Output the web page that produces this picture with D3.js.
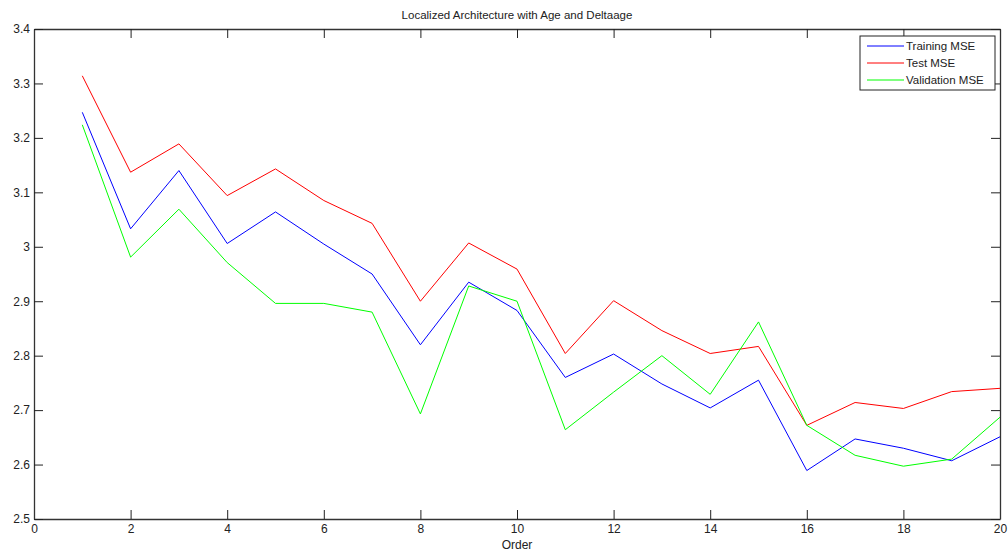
<!DOCTYPE html>
<html>
<head>
<meta charset="utf-8">
<script src="https://cdn.jsdelivr.net/npm/d3@7"></script>
<style>
  body { margin: 0; background: #fff; }
  svg { display: block; font-family: "Liberation Sans", Arial, sans-serif; }
  .tick text { fill: #222; font-size: 12px; }
</style>
</head>
<body>
<svg id="chart" width="1008" height="553"></svg>
<script>
// x positions (model order)
const orders = d3.range(1, 21);

const trainingMSE = [3.247, 3.033, 3.140, 3.006, 3.064, 3.005, 2.950, 2.820, 2.935, 2.883,
                     2.760, 2.803, 2.748, 2.704, 2.755, 2.589, 2.647, 2.630, 2.607, 2.651];
const testMSE = [3.314, 3.137, 3.189, 3.094, 3.143, 3.085, 3.043, 2.900, 3.007, 2.959,
                 2.804, 2.901, 2.846, 2.804, 2.817, 2.672, 2.714, 2.703, 2.734, 2.740];
const validationMSE = [3.224, 2.981, 3.069, 2.971, 2.896, 2.896, 2.880, 2.693, 2.928, 2.900,
                       2.664, 2.733, 2.800, 2.729, 2.862, 2.672, 2.617, 2.597, 2.610, 2.687];

const xTicks = [0, 2, 4, 6, 8, 10, 12, 14, 16, 18, 20];
const yTicks = [2.5, 2.6, 2.7, 2.8, 2.9, 3.0, 3.1, 3.2, 3.3, 3.4];

const series = [
  {name: "Training MSE", values: trainingMSE, color: "#0000ff"},
  {name: "Test MSE", values: testMSE, color: "#ff0000"},
  {name: "Validation MSE", values: validationMSE, color: "#00ff00"}
];

const svg = d3.select("#chart");
const margin = {top: 29, right: 8, bottom: 34, left: 34};
const width = 1008 - margin.left - margin.right;
const height = 553 - margin.top - margin.bottom;

const g = svg.append("g")
  .attr("transform", "translate(" + margin.left + "," + margin.top + ")");

const x = d3.scaleLinear().domain([0, 20]).range([0, width]);
const y = d3.scaleLinear().domain([2.5, 3.4]).range([height, 0]);

const fmtY = d => (d === 3 ? "3" : d3.format(".1f")(d));

// bottom axis with inward ticks
g.append("g")
  .attr("transform", "translate(0," + height + ")")
  .call(d3.axisBottom(x).tickValues(xTicks).tickSizeInner(-9).tickSizeOuter(0).tickPadding(5));

g.append("g")
  .call(d3.axisTop(x).tickValues(xTicks).tickSizeInner(-9).tickSizeOuter(0).tickFormat(""));

g.append("g")
  .call(d3.axisLeft(y).tickValues(yTicks).tickSizeInner(-9).tickSizeOuter(0).tickPadding(4).tickFormat(fmtY));

g.append("g")
  .attr("transform", "translate(" + width + ",0)")
  .call(d3.axisRight(y).tickValues(yTicks).tickSizeInner(-9).tickSizeOuter(0).tickFormat(""));

g.selectAll(".domain").attr("stroke", "#333").attr("stroke-width", 1.3);
g.selectAll(".tick line").attr("stroke", "#222");

// lines
const line = d3.line()
  .x((d, i) => x(orders[i]))
  .y(d => y(d));

g.selectAll(".series")
  .data(series)
  .enter().append("path")
  .attr("class", "series")
  .attr("fill", "none")
  .attr("stroke", d => d.color)
  .attr("stroke-width", 1)
  .attr("d", d => line(d.values));

// title and label
svg.append("text")
  .attr("x", margin.left + width / 2)
  .attr("y", 19)
  .attr("text-anchor", "middle")
  .attr("font-size", 11.5)
  .attr("fill", "#222")
  .text("Localized Architecture with Age and Deltaage");

svg.append("text")
  .attr("x", margin.left + width / 2)
  .attr("y", 549)
  .attr("text-anchor", "middle")
  .attr("font-size", 12)
  .attr("fill", "#222")
  .text("Order");

// legend
const legend = svg.append("g").attr("transform", "translate(860,36)");
legend.append("rect")
  .attr("width", 135)
  .attr("height", 54)
  .attr("fill", "#fff")
  .attr("stroke", "#222")
  .attr("stroke-width", 1);

const item = legend.selectAll(".item")
  .data(series)
  .enter().append("g")
  .attr("transform", (d, i) => "translate(0," + (10 + i * 17) + ")");
item.append("line")
  .attr("x1", 7).attr("x2", 44)
  .attr("stroke", d => d.color)
  .attr("stroke-width", 1);
item.append("text")
  .attr("x", 46)
  .attr("dy", "0.35em")
  .attr("font-size", 11.5)
  .attr("fill", "#222")
  .text(d => d.name);
</script>
</body>
</html>
